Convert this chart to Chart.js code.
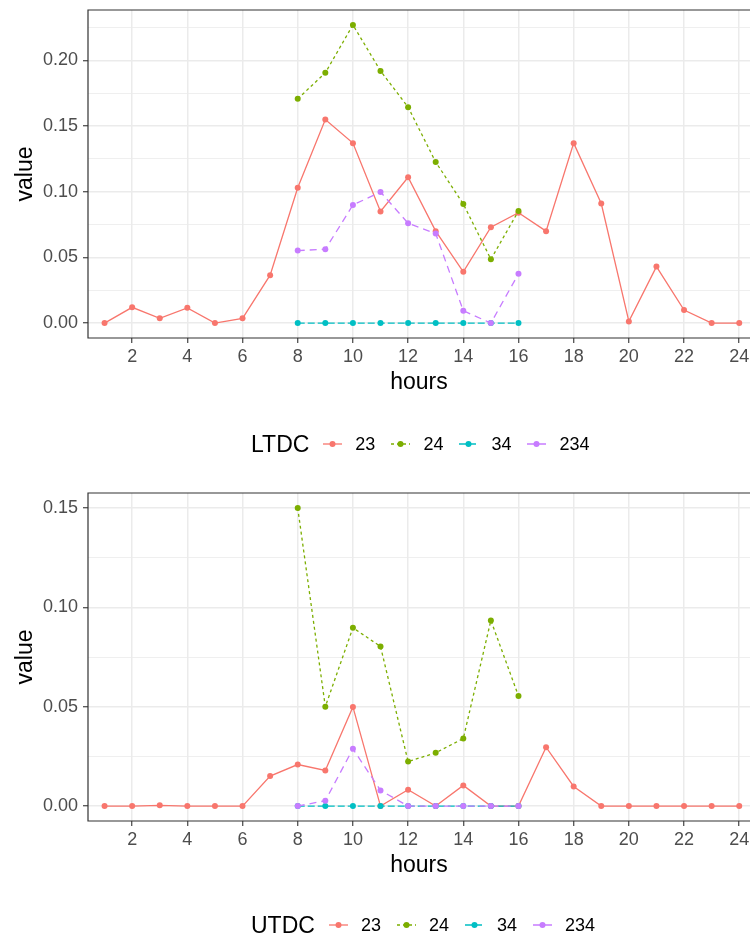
<!DOCTYPE html>
<html>
<head>
<meta charset="utf-8">
<script src="https://cdn.jsdelivr.net/npm/chart.js@4.4.0/dist/chart.umd.min.js"></script>
<style>
  html, body { margin: 0; padding: 0; background: #fff; }
  body { width: 750px; height: 938px; overflow: hidden; position: relative; font-family: "Liberation Sans", Arial, sans-serif; }
  .panel { position: absolute; left: 0; width: 754px; height: 483px; }
  .legend { position: absolute; left: 251px; height: 30px; display: flex; align-items: center; line-height: 30px; color: #000; white-space: nowrap; }
  .legend .ttl { font-size: 23px; margin-right: 11px; }
  .legend .lab { font-size: 18px; margin-left: 10px; margin-right: 13px; }
  .legend svg { display: block; }
</style>
</head>
<body>
<div class="panel" style="top:0"><canvas id="chart1" width="754" height="483"></canvas></div>
<div class="legend" id="leg1" style="top:429px"></div>
<div class="panel" style="top:483px"><canvas id="chart2" width="754" height="483"></canvas></div>
<div class="legend" id="leg2" style="top:910px"></div>
<script>
let hours = [1, 2, 3, 4, 5, 6, 7, 8, 9, 10, 11, 12, 13, 14, 15, 16, 17, 18, 19, 20, 21, 22, 23, 24];
let subHours = [8, 9, 10, 11, 12, 13, 14, 15, 16];
let xTicks = [2, 4, 6, 8, 10, 12, 14, 16, 18, 20, 22, 24];
let groups = ['23', '24', '34', '234'];

// LTDC
let ltdc23 = [0, 0.012, 0.0036, 0.0116, 0, 0.0036, 0.0365, 0.103, 0.155, 0.137, 0.085, 0.111,
  0.070, 0.039, 0.073, 0.084, 0.070, 0.137, 0.091, 0.0013, 0.043, 0.0099, 0, 0];
let ltdc24 = [0.1707, 0.1905, 0.227, 0.192, 0.1644, 0.1226, 0.0907, 0.0486, 0.0853];
let ltdc34 = [0, 0, 0, 0, 0, 0, 0, 0, 0];
let ltdc234 = [0.0552, 0.0562, 0.0899, 0.0998, 0.076, 0.0682, 0.0094, 0, 0.0375];
let ltdcTicks = [0, 0.05, 0.10, 0.15, 0.20];

// UTDC
let utdc23 = [0, 0, 0.0004, 0, 0, 0, 0.0151, 0.0209, 0.0179, 0.0499, 0, 0.0082,
  0, 0.0104, 0, 0, 0.0296, 0.0099, 0, 0, 0, 0, 0, 0];
let utdc24 = [0.15, 0.05, 0.0897, 0.0803, 0.0224, 0.0268, 0.034, 0.0934, 0.0554];
let utdc34 = [0, 0, 0, 0, 0, 0, 0, 0, 0];
let utdc234 = [0, 0.0027, 0.0288, 0.0079, 0, 0, 0, 0, 0];
let utdcTicks = [0, 0.05, 0.10, 0.15];

const colors = ['#F8766D', '#7CAE00', '#00BFC4', '#C77CFF'];
const dashes = [[], [3, 3], [7, 3], [7, 5]];
const FONT = '"Liberation Sans", Arial, sans-serif';

const pts = (xs, ys) => xs.map((x, i) => ({ x: x, y: ys[i] }));

// panel border (the right side falls outside the picture)
const borderBox = {
  id: 'borderBox',
  afterDatasetsDraw(chart) {
    const a = chart.chartArea;
    const c = chart.ctx;
    c.save();
    c.strokeStyle = '#333333';
    c.lineWidth = 1.2;
    c.beginPath();
    c.moveTo(a.right + 4, a.top);
    c.lineTo(a.left, a.top);
    c.lineTo(a.left, a.bottom);
    c.lineTo(a.right + 4, a.bottom);
    c.stroke();
    c.restore();
  }
};

const makeChart = (id, series, majors) => {
  let all = [].concat(...series);
  let top = Math.max(...all);
  let pad = 0.05 * top;
  // major ticks plus the minor ones half way between
  let yTicks = [];
  let step = majors[1] - majors[0];
  for (let v = majors[0]; v <= top + pad + 1e-9; v += step / 2) {
    yTicks.push(Math.round(v * 1000) / 1000);
  }
  const isMajor = (v) => majors.some(m => Math.abs(m - v) < 1e-6);

  const xs = [hours, subHours, subHours, subHours];
  const datasets = series.map((s, i) => ({
    label: groups[i],
    data: pts(xs[i], s),
    borderColor: colors[i],
    backgroundColor: colors[i],
    pointBackgroundColor: colors[i],
    pointBorderWidth: 0,
    pointRadius: 3,
    borderWidth: 1.3,
    borderDash: dashes[i],
    tension: 0,
    order: 3 - i,
  }));

  new Chart(document.getElementById(id), {
    type: 'line',
    data: { datasets: datasets },
    plugins: [borderBox],
    options: {
      responsive: false,
      animation: false,
      layout: { padding: { top: 10, left: 0, right: 0, bottom: 0 } },
      plugins: { legend: { display: false }, tooltip: { enabled: false } },
      scales: {
        x: {
          type: 'linear',
          min: 0.4,
          max: 24.39,
          afterBuildTicks: (scale) => { scale.ticks = xTicks.map(v => ({ value: v })); },
          afterFit: (scale) => { scale.height = 145; scale.paddingLeft = 0; scale.paddingRight = 0; },
          ticks: { autoSkip: false, maxRotation: 0, padding: 3, color: '#4d4d4d', font: { family: FONT, size: 18 } },
          grid: { color: '#ebebeb', lineWidth: 1.5, tickLength: 5, tickColor: '#333333', tickWidth: 1.1 },
          border: { display: false },
          title: { display: true, text: 'hours', color: '#000', font: { family: FONT, size: 23, lineHeight: 1 }, padding: { top: 0, bottom: 89 } },
        },
        y: {
          min: -pad,
          max: top + pad,
          afterBuildTicks: (scale) => { scale.ticks = yTicks.map(v => ({ value: v })); },
          afterFit: (scale) => { scale.width = 88; scale.paddingTop = 0; scale.paddingBottom = 0; },
          ticks: {
            autoSkip: false,
            padding: 5,
            color: '#4d4d4d',
            font: { family: FONT, size: 18 },
            callback: (v) => isMajor(v) ? v.toFixed(2) : '',
          },
          grid: {
            color: '#ebebeb',
            lineWidth: (c) => isMajor(c.tick.value) ? 1.5 : 0.8,
            tickLength: 5,
            tickColor: (c) => isMajor(c.tick.value) ? '#333333' : 'rgba(0,0,0,0)',
            tickWidth: 1.1,
          },
          border: { display: false },
          title: { display: true, text: 'value', color: '#000', font: { family: FONT, size: 23, lineHeight: 1 }, padding: { top: 14, bottom: 0 } },
        },
      },
    },
  });
};

const makeLegend = (id, title) => {
  let el = document.getElementById(id);
  let html = `<span class="ttl">${title}</span>`;
  groups.forEach((g, i) => {
    let d = dashes[i].length ? `stroke-dasharray="${dashes[i].join(' ')}"` : '';
    html += `<svg width="25" height="12"><line x1="3" y1="6" x2="22" y2="6" stroke="${colors[i]}" stroke-width="1.3" ${d}/>` +
      `<circle cx="12.5" cy="6" r="3" fill="${colors[i]}"/></svg><span class="lab">${g}</span>`;
  });
  el.innerHTML = html;
};

window.onload = () => {
  makeChart('chart1', [ltdc23, ltdc24, ltdc34, ltdc234], ltdcTicks);
  makeChart('chart2', [utdc23, utdc24, utdc34, utdc234], utdcTicks);
  makeLegend('leg1', 'LTDC');
  makeLegend('leg2', 'UTDC');
};
</script>
</body>
</html>
